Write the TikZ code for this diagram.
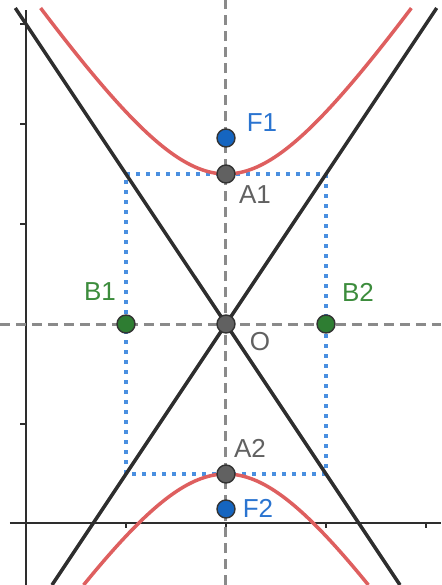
\documentclass[tikz,border=0pt]{standalone}
\usepackage{fontspec}
\setmainfont{Liberation Sans}
\definecolor{curvered}{HTML}{DE5F5F}
\definecolor{asym}{HTML}{2E2E2E}
\definecolor{dashgrey}{HTML}{8A8A8A}
\definecolor{rectblue}{HTML}{4A8FE0}
\definecolor{fblue}{HTML}{1565C0}
\definecolor{ftext}{HTML}{2A74D0}
\definecolor{agrey}{HTML}{616161}
\definecolor{bgreen}{HTML}{2E7D32}
\definecolor{btext}{HTML}{3C8C3C}
\begin{document}
\begin{tikzpicture}[x=50pt,y=50pt,
  axisline/.style={draw=asym,line width=0.75pt},
  guide/.style={draw=dashgrey,line width=1.5pt,dash pattern=on 5pt off 3pt},
  boxline/.style={draw=rectblue,line width=2pt,dash pattern=on 2pt off 3pt},
  asymline/.style={draw=asym,line width=1.75pt},
  hyp/.style={draw=curvered,line width=1.75pt},
  pt/.style={circle,draw=black!80,line width=0.7pt,inner sep=0pt,minimum size=9pt},
  lbl/.style={font=\fontsize{13pt}{15pt}\selectfont,inner sep=0pt}]
\useasboundingbox (-2.26,-2.61) rectangle (2.15,3.24);
% axes
\draw[axisline] (-2.16,-1.99) -- (2.15,-1.99);
\draw[axisline] (-2,-2.61) -- (-2,3.14);
\foreach \t in {-1,0,1,2} \draw[axisline] (\t,-1.99) -- (\t,-2.04);
\foreach \t in {-1,0,1,2,3} \draw[axisline] (-2,\t) -- (-2.06,\t);
% guides
\draw[guide] (0,-2.61) -- (0,3.24);
\draw[guide] (-2.26,0) -- (2.15,0);
% rectangle
\draw[boxline] (-1,-1.5) rectangle (1,1.5);
% asymptotes
\coordinate (L1a) at (-2.107,3.16);
\coordinate (L1b) at (1.74,-2.61);
\coordinate (L2a) at (2.107,3.16);
\coordinate (L2b) at (-1.74,-2.61);
\draw[asymline] (L1a) -- (L1b);
\draw[asymline] (L2a) -- (L2b);
% hyperbola
\draw[hyp] plot[domain=-1.854:1.854,samples=90,smooth] (\x,{1.5*sqrt(1+\x*\x)});
\draw[hyp] plot[domain=-1.424:1.424,samples=90,smooth] (\x,{-1.5*sqrt(1+\x*\x)});
% points
\node[pt,fill=fblue] (F1) at (0,1.86) {};
\node[pt,fill=fblue] (F2) at (0,-1.85) {};
\node[pt,fill=agrey] (A1) at (0,1.5) {};
\node[pt,fill=agrey] (A2) at (0,-1.5) {};
\node[pt,fill=agrey] (O) at (0,0) {};
\node[pt,fill=bgreen] (B1) at (-1,0) {};
\node[pt,fill=bgreen] (B2) at (1,0) {};
% labels
\node[lbl,text=ftext] (tF1) at (0.36,2.01) {F1};
\node[lbl,text=ftext] (tF2) at (0.32,-1.84) {F2};
\node[lbl,text=agrey] (tA1) at (0.29,1.29) {A1};
\node[lbl,text=agrey] (tA2) at (0.24,-1.24) {A2};
\node[lbl,text=agrey] (tO) at (0.34,-0.18) {O};
\node[lbl,text=btext] (tB1) at (-1.26,0.32) {B1};
\node[lbl,text=btext] (tB2) at (1.32,0.32) {B2};
\end{tikzpicture}
\end{document}
